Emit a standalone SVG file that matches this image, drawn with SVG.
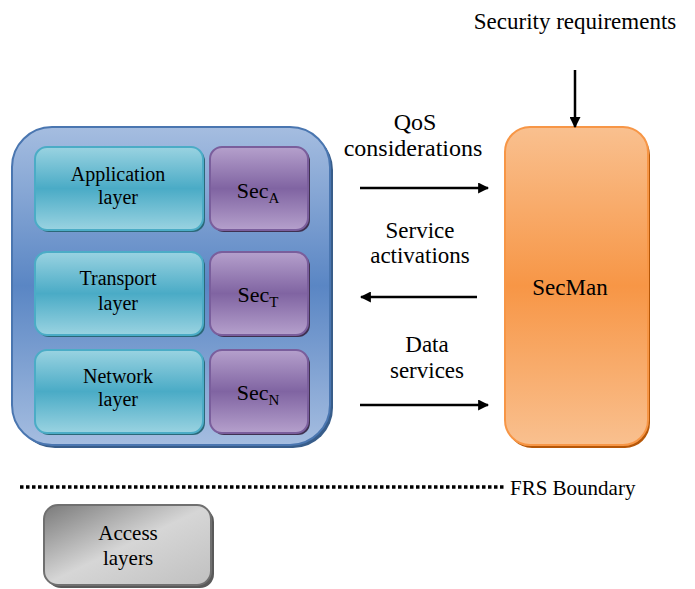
<svg xmlns="http://www.w3.org/2000/svg" width="695" height="589" viewBox="0 0 695 589">
<style>
text{font-family:"Liberation Serif","DejaVu Serif","Times New Roman",serif;fill:#000;text-anchor:middle}
.l{font-size:20px}
.t{font-size:23px}
.s{font-size:22px}
.sub{font-size:15px}
.conn{stroke:#000;stroke-width:2.5;fill:none}
</style>
<defs>
<linearGradient id="gBlue" x1="0" y1="0" x2="0" y2="1">
<stop offset="0" stop-color="#a5bde0"/><stop offset="0.5" stop-color="#5a86c4"/><stop offset="1" stop-color="#a5bde0"/>
</linearGradient>
<linearGradient id="gTeal" x1="0" y1="0" x2="0" y2="1">
<stop offset="0" stop-color="#9ad3e1"/><stop offset="0.5" stop-color="#4aabc6"/><stop offset="1" stop-color="#9ad3e1"/>
</linearGradient>
<linearGradient id="gPurp" x1="0" y1="0" x2="0" y2="1">
<stop offset="0" stop-color="#b5a0cc"/><stop offset="0.5" stop-color="#8064a2"/><stop offset="1" stop-color="#b5a0cc"/>
</linearGradient>
<linearGradient id="gOr" x1="0" y1="0" x2="0" y2="1">
<stop offset="0" stop-color="#f9c08f"/><stop offset="0.5" stop-color="#f79646"/><stop offset="1" stop-color="#f9c08f"/>
</linearGradient>
<linearGradient id="gGray" x1="0" y1="0" x2="1" y2="1">
<stop offset="0" stop-color="#7a7a7a"/><stop offset="0.5" stop-color="#d6d6d6"/><stop offset="1" stop-color="#c0c0c0"/>
</linearGradient>
<marker id="ah" viewBox="0 0 10 10" refX="9" refY="5" markerWidth="4.4" markerHeight="4.4" orient="auto" markerUnits="strokeWidth">
<path d="M0,0 L10,5 L0,10 Z" fill="#000"/>
</marker>
</defs>

<g id="stack">
<rect x="15" y="130" width="318" height="318" rx="40" fill="#385d8a"/>
<rect x="12" y="127" width="318" height="318" rx="40" fill="url(#gBlue)" stroke="#4a76b0" stroke-width="2"/>
</g>

<g id="app">
<rect x="37" y="149" width="168" height="83" rx="12" fill="#2b6878"/>
<rect x="35" y="147" width="168" height="83" rx="12" fill="url(#gTeal)" stroke="#4bacc6" stroke-width="2"/>
<text class="l" x="118" y="181">Application</text>
<text class="l" x="118" y="204">layer</text>
</g>
<g id="secA">
<rect x="212" y="149" width="98" height="83" rx="12" fill="#3f3151"/>
<rect x="210" y="147" width="98" height="83" rx="12" fill="url(#gPurp)" stroke="#7a5e9c" stroke-width="2"/>
<text class="s" x="258" y="198"><tspan>Sec</tspan><tspan class="sub" dy="5">A</tspan></text>
</g>

<g id="transport">
<rect x="37" y="254" width="168" height="83" rx="12" fill="#2b6878"/>
<rect x="35" y="252" width="168" height="83" rx="12" fill="url(#gTeal)" stroke="#4bacc6" stroke-width="2"/>
<text class="l" x="118" y="285">Transport</text>
<text class="l" x="118" y="310">layer</text>
</g>
<g id="secT">
<rect x="212" y="254" width="98" height="83" rx="12" fill="#3f3151"/>
<rect x="210" y="252" width="98" height="83" rx="12" fill="url(#gPurp)" stroke="#7a5e9c" stroke-width="2"/>
<text class="s" x="258" y="302"><tspan>Sec</tspan><tspan class="sub" dy="5">T</tspan></text>
</g>

<g id="network">
<rect x="37" y="352" width="168" height="83" rx="12" fill="#2b6878"/>
<rect x="35" y="350" width="168" height="83" rx="12" fill="url(#gTeal)" stroke="#4bacc6" stroke-width="2"/>
<text class="l" x="118" y="383">Network</text>
<text class="l" x="118" y="406">layer</text>
</g>
<g id="secN">
<rect x="212" y="352" width="98" height="83" rx="12" fill="#3f3151"/>
<rect x="210" y="350" width="98" height="83" rx="12" fill="url(#gPurp)" stroke="#7a5e9c" stroke-width="2"/>
<text class="s" x="258" y="400"><tspan>Sec</tspan><tspan class="sub" dy="5">N</tspan></text>
</g>

<g id="secman">
<rect x="507" y="130" width="143" height="318" rx="25" fill="#b65708"/>
<rect x="505" y="127" width="143" height="318" rx="25" fill="url(#gOr)" stroke="#f79646" stroke-width="2"/>
<text class="t" x="570" y="295">SecMan</text>
</g>

<g id="secreq">
<text class="t" x="575" y="29">Security requirements</text>
</g>

<g id="access">
<rect x="47" y="508" width="167" height="80" rx="14" fill="#5a5a5a"/>
<rect x="44" y="505" width="167" height="80" rx="14" fill="url(#gGray)" stroke="#707070" stroke-width="2"/>
<text class="t" x="128" y="540" style="font-size:21px">Access</text>
<text class="t" x="128" y="565" style="font-size:21px">layers</text>
</g>

<g id="boundary">
<line x1="20" y1="487" x2="505" y2="487" stroke="#000" stroke-width="3.5" stroke-dasharray="3.5,2.5"/>
<text x="510" y="495" style="text-anchor:start;font-size:21px">FRS Boundary</text>
</g>

<g id="connectors">
<line class="conn" x1="360" y1="188" x2="488" y2="188" marker-end="url(#ah)"/>
<line class="conn" x1="477" y1="297" x2="361" y2="297" marker-end="url(#ah)"/>
<line class="conn" x1="360" y1="405" x2="488" y2="405" marker-end="url(#ah)"/>
<line class="conn" x1="575" y1="70" x2="575" y2="127" marker-end="url(#ah)"/>
<text class="t" x="415" y="130" style="font-size:24px">QoS</text>
<text class="t" x="413" y="156" style="font-size:24px">considerations</text>
<text class="t" x="420" y="238">Service</text>
<text class="t" x="420" y="263">activations</text>
<text class="t" x="427" y="352">Data</text>
<text class="t" x="427" y="378">services</text>
</g>
</svg>
